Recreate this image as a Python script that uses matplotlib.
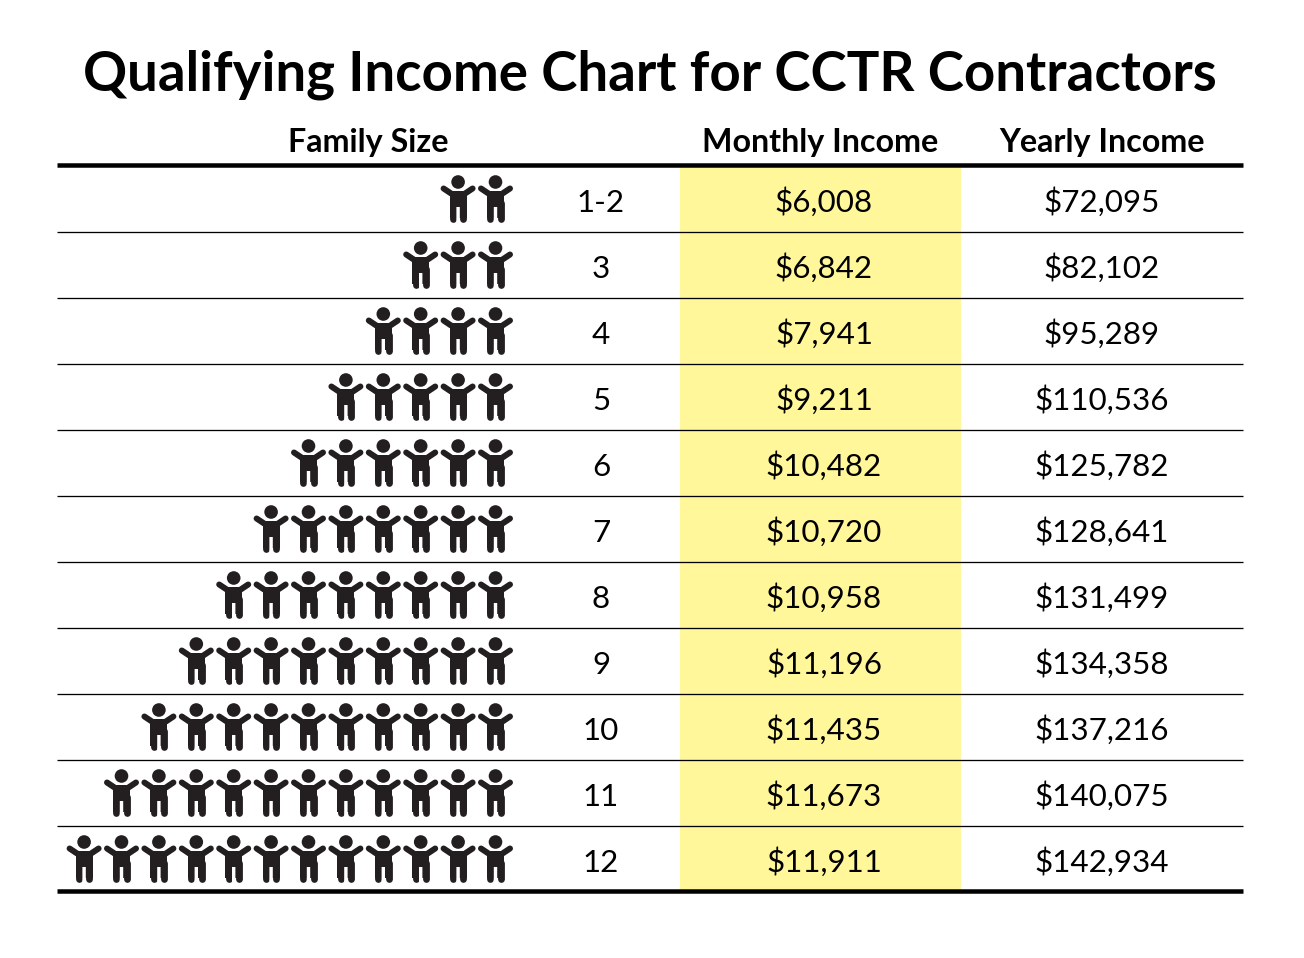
import matplotlib
matplotlib.use("Agg")
import matplotlib.pyplot as plt
from matplotlib.patches import Circle, Polygon, Rectangle

title = "Qualifying Income Chart for CCTR Contractors"
headers = ["Family Size", "Monthly Income", "Yearly Income"]
family_labels = ["1-2", "3", "4", "5", "6", "7", "8", "9", "10", "11", "12"]
person_counts = [2, 3, 4, 5, 6, 7, 8, 9, 10, 11, 12]
monthly = ["$6,008", "$6,842", "$7,941", "$9,211", "$10,482", "$10,720",
           "$10,958", "$11,196", "$11,435", "$11,673", "$11,911"]
yearly = ["$72,095", "$82,102", "$95,289", "$110,536", "$125,782", "$128,641",
          "$131,499", "$134,358", "$137,216", "$140,075", "$142,934"]

FONT = "Lato"
INK = "#231f20"
W, H = 1304, 958
fig = plt.figure(figsize=(W / 100, H / 100), dpi=100, facecolor="white")
ax = fig.add_axes([0, 0, 1, 1])
ax.set_xlim(0, W)
ax.set_ylim(H, 0)
ax.axis("off")

ROW0, ROWH = 199.0, 66.0
L, R = 56.5, 1242.5
PX = 0.72


def person(cx, cy):
    ax.add_patch(Circle((cx, cy - 17), 6.8, fc=INK, ec="none", zorder=3))
    ax.add_patch(Polygon([(cx - 8.5, cy - 8), (cx + 8.5, cy - 8), (cx + 8.5, cy + 19),
                          (cx - 8.5, cy + 19)], fc=INK, ec="none", zorder=3))
    for s in (-1, 1):
        ax.plot([cx + s * 7, cx + s * 14.5], [cy - 5.5, cy - 10.5], color=INK,
                lw=6 * PX, solid_capstyle="round", zorder=3)
        ax.plot([cx + s * 5.2, cx + s * 5.2], [cy + 4, cy + 19.5], color=INK,
                lw=6.8 * PX, solid_capstyle="round", zorder=3)
    ax.add_patch(Rectangle((cx - 1.7, cy + 8), 3.4, 16, fc="white", ec="none", zorder=4,
                           snap=False))


ax.add_patch(Rectangle((679.5, 167), 281, 723, fc="#fff799", ec="none", zorder=1))

for i in range(len(family_labels)):
    y = ROW0 + i * ROWH
    for k in range(person_counts[i]):
        person(495.5 - k * 37.4, y)
    kw = dict(ha="center", va="baseline", fontsize=22.6, family=FONT, color="black", zorder=5)
    ax.text(601, y + 12.5, family_labels[i], **kw)
    ax.text(824, y + 12.5, monthly[i], **kw)
    ax.text(1102, y + 12.5, yearly[i], **kw)
    if i > 0:
        ax.plot([L, R], [y - 33.5, y - 33.5], color="black", lw=1.3 * PX, zorder=2,
                solid_capstyle="butt")

ax.plot([L, R], [165, 165], color="black", lw=4.5 * PX, zorder=2, solid_capstyle="butt")
ax.plot([L, R], [890.5, 890.5], color="black", lw=4.5 * PX, zorder=2, solid_capstyle="butt")

ax.text(650, 90, title, ha="center", va="baseline", fontsize=39.3, fontweight="bold",
        family=FONT, color="black")
hk = dict(ha="center", va="baseline", fontsize=23.2, fontweight="bold", family=FONT, color="black")
ax.text(368, 152, headers[0], **hk)
ax.text(820, 152, headers[1], **hk)
ax.text(1102, 152, headers[2], **hk)

fig.savefig("out.png", dpi=100, facecolor="white")
